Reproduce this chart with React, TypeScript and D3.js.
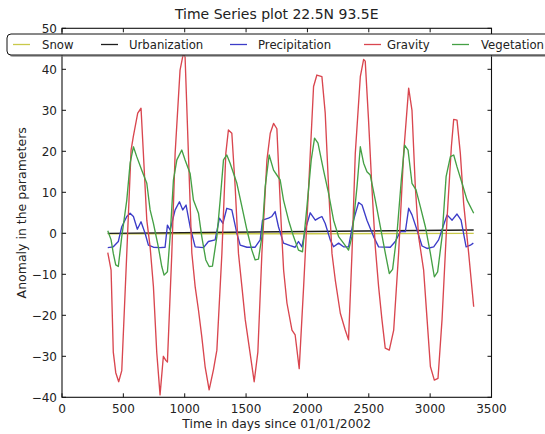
import React from "react";
import * as d3 from "d3";

const xTicks = [0, 500, 1000, 1500, 2000, 2500, 3000, 3500];
const yTicks = [-40, -30, -20, -10, 0, 10, 20, 30, 40, 50];

const snowDays = [373, 1000, 2000, 3355];
const snowVals = [-0.1, -0.1, -0.1, 0.0];

const urbanDays = [373, 3355];
const urbanVals = [0.0, 0.8];

const precipDays = [373, 418, 459, 487, 528, 555, 582, 614, 644, 677, 704, 745, 799, 840, 859, 881, 922, 957, 984, 1011, 1044, 1085, 1153, 1193, 1248, 1283, 1311, 1343, 1384, 1425, 1452, 1507, 1574, 1615, 1634, 1683, 1710, 1737, 1764, 1805, 1860, 1900, 1927, 1955, 1982, 2023, 2064, 2091, 2118, 2145, 2186, 2213, 2254, 2294, 2335, 2376, 2417, 2445, 2485, 2539, 2580, 2675, 2716, 2757, 2798, 2825, 2852, 2893, 2934, 2975, 3029, 3069, 3105, 3138, 3179, 3219, 3252, 3293, 3328, 3352];
const precipVals = [-3.5, -3.3, -2.0, 1.6, 4.1, 4.9, 4.1, 1.0, 2.8, 0.0, -2.9, -3.4, -3.5, -3.4, 2.0, 0.8, 5.7, 7.7, 5.7, 6.9, 1.6, -3.3, -3.5, -2.0, -1.6, 3.7, 2.4, 6.1, 5.7, 0.0, -2.9, -3.4, -3.4, -1.6, 3.2, 3.7, 4.1, 5.3, 1.6, -2.4, -3.0, -3.4, -2.0, -3.3, 0.8, 5.0, 3.2, 3.7, 4.1, 2.4, -1.6, -3.3, -2.4, -3.3, -3.3, 3.2, 7.5, 6.9, 3.2, -0.8, -3.3, -3.4, -2.0, 0.4, 0.4, 6.1, 4.5, 0.8, -3.1, -3.7, -3.3, -1.6, 1.6, 4.5, 3.2, 4.7, 3.2, -3.3, -2.9, -2.4];

const gravityDays = [373, 400, 418, 438, 462, 487, 528, 563, 581, 617, 644, 663, 691, 718, 745, 772, 799, 826, 846, 859, 895, 922, 962, 989, 1003, 1030, 1058, 1085, 1112, 1139, 1166, 1199, 1234, 1262, 1303, 1335, 1356, 1384, 1411, 1438, 1466, 1493, 1533, 1566, 1596, 1629, 1670, 1697, 1724, 1751, 1785, 1806, 1833, 1874, 1900, 1933, 1969, 2010, 2050, 2077, 2118, 2145, 2172, 2200, 2227, 2268, 2308, 2335, 2363, 2390, 2431, 2458, 2471, 2498, 2525, 2553, 2580, 2607, 2634, 2667, 2703, 2743, 2784, 2825, 2852, 2879, 2906, 2947, 2975, 3002, 3034, 3064, 3097, 3137, 3173, 3192, 3219, 3246, 3273, 3314, 3355];
const gravityVals = [-4.7, -9.0, -29, -34, -36.2, -33.5, -4.8, 20.3, 23.6, 29.3, 30.5, 19.6, 3.2, -3.3, -13, -29, -39.4, -30, -31, -31.4, -4.8, 19.6, 39.8, 43.9, 43, 19.5, -4.8, -13, -18.7, -25.2, -32.5, -38.2, -33.3, -28.5, -4.9, 19.5, 25.2, 24.4, 11.4, -4.9, -13, -21, -29.3, -36.2, -29, -4.8, 17.9, 24.4, 26.8, 25.5, 3, -9, -17, -23.6, -24.8, -33, -13, 11.4, 35.8, 38.6, 38.2, 29.3, 11.4, -4.9, -11.4, -19.5, -23.6, -26, -4.9, 19.5, 38.2, 42.4, 42, 27.6, 11.4, -3.3, -13, -21, -28, -28.5, -23.6, -4.9, 19.5, 35.4, 30, 11.4, -0.8, -9, -21, -32.5, -35.8, -35.4, -21, 3.2, 21.1, 27.8, 27.6, 19.5, 7.3, -4.9, -17.9];

const vegDays = [373, 400, 418, 438, 459, 487, 528, 555, 582, 609, 650, 691, 718, 745, 785, 813, 832, 859, 881, 908, 936, 976, 1003, 1044, 1071, 1112, 1139, 1172, 1199, 1226, 1262, 1289, 1316, 1343, 1370, 1425, 1466, 1507, 1547, 1574, 1601, 1629, 1656, 1688, 1724, 1778, 1805, 1846, 1887, 1927, 1960, 1996, 2031, 2058, 2086, 2131, 2172, 2213, 2254, 2294, 2335, 2363, 2404, 2431, 2458, 2485, 2512, 2553, 2594, 2635, 2667, 2694, 2730, 2765, 2792, 2820, 2852, 2885, 2920, 2961, 3002, 3034, 3061, 3097, 3130, 3165, 3192, 3219, 3260, 3301, 3355];
const vegVals = [0.6, -1.6, -4.9, -7.7, -8.1, -0.8, 8.1, 17.1, 21.1, 18.7, 15.4, 12.2, 5.7, 2.4, -3.3, -8.1, -10.2, -9.4, -0.8, 13.0, 17.9, 20.3, 17.9, 14.6, 8.1, 4.9, -0.8, -6.5, -8.1, -8.0, -0.8, 8.1, 17.9, 19.1, 17.1, 12.2, 6.5, 0.8, -4.1, -6.5, -6.3, -0.8, 11.4, 19.1, 15.4, 13.0, 8.1, 3.2, -0.8, -4.1, -4.5, 6.5, 17.9, 23.2, 22.0, 15.4, 9.8, 3.2, -0.8, -2.4, -4.1, -0.8, 11.4, 21.1, 17.1, 15.0, 14.2, 8.1, 1.6, -4.9, -9.8, -8.8, 0.0, 13.0, 21.5, 20.3, 12.2, 10.6, 6.5, 1.6, -4.9, -10.6, -9.4, -0.8, 13.8, 18.7, 19.1, 16.2, 12.2, 8.1, 4.9];

const seriesNames = ["Snow", "Urbanization", "Precipitation", "Gravity", "Vegetation"];
const seriesColors = ["#c9c94a", "#1e1e1e", "#3c3cc8", "#d9464f", "#45a045"];

const L = 62, R = 491.5, T = 28.3, B = 397.3;
const FONT = "'DejaVu Sans', sans-serif";

export default function App() {
  const x = d3.scaleLinear().domain([0, 3500]).range([L, R]);
  const y = d3.scaleLinear().domain([-40, 50]).range([B, T]);
  const line = d3.line<[number, number]>().x((d) => x(d[0])).y((d) => y(d[1]));
  const zip = (a: number[], b: number[]) => a.map((v, i) => [v, b[i]] as [number, number]);
  const data = [
    zip(snowDays, snowVals),
    zip(urbanDays, urbanVals),
    zip(precipDays, precipVals),
    zip(gravityDays, gravityVals),
    zip(vegDays, vegVals),
  ];
  const legendLineX = [13, 101, 230, 364, 452];
  const legendTextX = [42, 129, 258, 387, 481];
  const fmt = (v: number) => (v < 0 ? "\u2212" + Math.abs(v) : String(v));
  return (
    <svg width={545} height={434} style={{ position: "absolute", left: 0, top: 0, background: "#fff" }} fontFamily={FONT}>
      <rect x={0} y={0} width={545} height={434} fill="#fff" />
      <defs>
        <clipPath id="plot">
          <rect x={L} y={T} width={R - L} height={B - T} />
        </clipPath>
      </defs>
      <g clipPath="url(#plot)" fill="none" strokeWidth={1.35} strokeLinejoin="round">
        {data.map((d, i) => (
          <path key={i} d={line(d) || ""} stroke={seriesColors[i]} />
        ))}
      </g>
      <rect x={L} y={T} width={R - L} height={B - T} fill="none" stroke="#111" strokeWidth={1.1} />
      {xTicks.map((t) => (
        <g key={"x" + t}>
          <line x1={x(t)} x2={x(t)} y1={B} y2={B - 4} stroke="#111" />
          <line x1={x(t)} x2={x(t)} y1={T} y2={T + 4} stroke="#111" />
          <text x={x(t)} y={412.5} fontSize={12} textAnchor="middle" fill="#222">{t}</text>
        </g>
      ))}
      {yTicks.map((t) => (
        <g key={"y" + t}>
          <line x1={L} x2={L + 4} y1={y(t)} y2={y(t)} stroke="#111" />
          <line x1={R} x2={R - 4} y1={y(t)} y2={y(t)} stroke="#111" />
          <text x={57} y={y(t) + 4.3} fontSize={12} textAnchor="end" fill="#222">{fmt(t)}</text>
        </g>
      ))}
      <text x={(L + R) / 2} y={19} fontSize={14} textAnchor="middle" fill="#222">Time Series plot 22.5N 93.5E</text>
      <text x={(L + R) / 2} y={428} fontSize={12.3} textAnchor="middle" fill="#222">Time in days since 01/01/2002</text>
      <text transform={`translate(26,${(T + B) / 2}) rotate(-90)`} fontSize={12.5} textAnchor="middle" fill="#222">Anomaly in the parameters</text>
      <g>
        <rect x={9} y={36} width={560} height={21} rx={4} fill="#777" opacity={0.6} />
        <rect x={7} y={34} width={560} height={21} rx={4} fill="#fff" stroke="#111" strokeWidth={1} />
        {seriesNames.map((n, i) => (
          <g key={n}>
            <line x1={legendLineX[i]} x2={legendLineX[i] + 17} y1={44.5} y2={44.5} stroke={seriesColors[i]} strokeWidth={1.3} />
            <text x={legendTextX[i]} y={48.8} fontSize={11.7} fill="#222">{n}</text>
          </g>
        ))}
      </g>
    </svg>
  );
}
